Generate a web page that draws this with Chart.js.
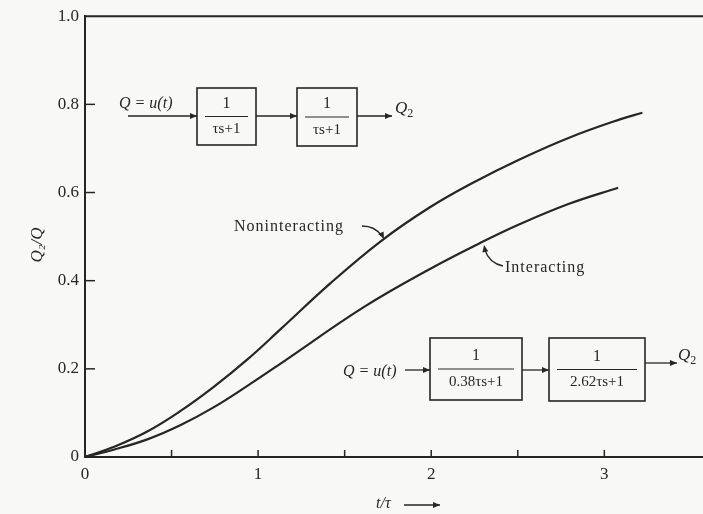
<!DOCTYPE html>
<html>
<head>
<meta charset="utf-8">
<script src="https://cdn.jsdelivr.net/npm/chart.js@4"></script>
<style>
html,body{margin:0;padding:0;background:#f8f8f6;}
#wrap{width:703px;height:514px;position:relative;}
canvas{display:block;}
</style>
</head>
<body>
<div id="wrap"><canvas id="c" width="703" height="514"></canvas></div>
<script>
// ---- data ----
const nonT = [0, 0.16, 0.36, 0.55, 0.74, 0.94, 1.13, 1.42, 1.71, 1.99, 2.23, 2.51, 2.80, 3.09, 3.22];
const nonY = [0, 0.022, 0.058, 0.104, 0.158, 0.222, 0.290, 0.395, 0.490, 0.566, 0.620, 0.675, 0.725, 0.766, 0.781];
const intT = [0, 0.16, 0.36, 0.55, 0.74, 0.94, 1.13, 1.61, 1.99, 2.28, 2.51, 2.80, 3.08];
const intY = [0, 0.016, 0.040, 0.072, 0.112, 0.162, 0.212, 0.340, 0.426, 0.485, 0.528, 0.575, 0.611];
const xTicks = [0, 0.5, 1, 1.5, 2, 2.5, 3];
const xLabels = {0: '0', 1: '1', 2: '2', 3: '3'};
const yTicks = [0, 0.2, 0.4, 0.6, 0.8, 1.0];
const yLabels = {0: '0', 0.2: '0.2', 0.4: '0.4', 0.6: '0.6', 0.8: '0.8', 1: '1.0'};
const seriesNames = ['Noninteracting', 'Interacting'];

const INK = '#262626';
const SERIF = '"Liberation Serif", "DejaVu Serif", serif';

function pts(t, y) { return t.map((v, i) => ({x: v, y: y[i]})); }

const deco = {
  id: 'deco',
  afterDraw(chart) {
    const ctx = chart.ctx;
    const xs = chart.scales.x, ys = chart.scales.y;
    const a = chart.chartArea;
    ctx.save();
    ctx.strokeStyle = INK; ctx.fillStyle = INK;
    // top frame line
    ctx.lineWidth = 2;
    ctx.beginPath(); ctx.moveTo(a.left, a.top); ctx.lineTo(a.right, a.top); ctx.stroke();
    // inward ticks
    ctx.lineWidth = 1.5;
    yTicks.forEach(v => {
      if (v === 0 || v === 1) return;
      const p = ys.getPixelForValue(v);
      ctx.beginPath(); ctx.moveTo(a.left, p); ctx.lineTo(a.left + 10, p); ctx.stroke();
    });
    xTicks.forEach(v => {
      if (v === 0) return;
      const p = xs.getPixelForValue(v);
      ctx.beginPath(); ctx.moveTo(p, a.bottom); ctx.lineTo(p, a.bottom - 7); ctx.stroke();
    });

    function arrowHead(x, y, dir) {
      ctx.beginPath();
      ctx.moveTo(x, y);
      ctx.lineTo(x - 7 * Math.cos(dir) + 3 * Math.sin(dir), y - 7 * Math.sin(dir) - 3 * Math.cos(dir));
      ctx.lineTo(x - 7 * Math.cos(dir) - 3 * Math.sin(dir), y - 7 * Math.sin(dir) + 3 * Math.cos(dir));
      ctx.closePath(); ctx.fill();
    }
    function hArrow(x1, x2, y) {
      ctx.lineWidth = 1.3;
      ctx.beginPath(); ctx.moveTo(x1, y); ctx.lineTo(x2, y); ctx.stroke();
      arrowHead(x2, y, 0);
    }
    function block(x1, y1, x2, y2, den) {
      ctx.lineWidth = 1.6;
      ctx.strokeRect(x1, y1, x2 - x1, y2 - y1);
      const cx = (x1 + x2) / 2, my = (y1 + y2) / 2;
      ctx.lineWidth = 1.2;
      ctx.beginPath(); ctx.moveTo(x1 + 8, my); ctx.lineTo(x2 - 8, my); ctx.stroke();
      ctx.font = '16px ' + SERIF;
      ctx.textAlign = 'center'; ctx.textBaseline = 'middle';
      ctx.fillText('1', cx, my - 13);
      ctx.font = '15px ' + SERIF;
      ctx.fillText(den, cx, my + 13);
    }
    function italic(txt, x, y, size, align) {
      ctx.font = 'italic ' + size + 'px ' + SERIF;
      ctx.textAlign = align || 'left'; ctx.textBaseline = 'middle';
      ctx.fillText(txt, x, y);
    }
    function q2(x, y) {
      italic('Q', x, y, 17, 'left');
      const w = ctx.measureText('Q').width;
      ctx.font = '12px ' + SERIF;
      ctx.fillText('2', x + w, y + 5);
    }

    // top block diagram (non-interacting)
    italic('Q = u(t)', 119, 104, 16);
    hArrow(128, 197, 116);
    block(197, 88, 256, 145, 'τs+1');
    hArrow(256, 297, 116);
    block(297, 88, 357, 146, 'τs+1');
    hArrow(357, 392, 116);
    q2(395, 109);

    // bottom block diagram (interacting)
    italic('Q = u(t)', 343, 372, 16);
    hArrow(405, 430, 370);
    block(430, 338, 522, 400, '0.38τs+1');
    hArrow(522, 549, 370);
    block(549, 338, 645, 401, '2.62τs+1');
    hArrow(645, 677, 363);
    q2(678, 356);

    // curve labels with arrows
    ctx.font = '16px ' + SERIF;
    if ('letterSpacing' in ctx) ctx.letterSpacing = '1px';
    ctx.textAlign = 'left'; ctx.textBaseline = 'middle';
    ctx.fillText(seriesNames[0], 234, 227);
    ctx.fillText(seriesNames[1], 505, 268);
    if ('letterSpacing' in ctx) ctx.letterSpacing = '0px';
    ctx.lineWidth = 1.3;
    ctx.beginPath(); ctx.moveTo(362, 226); ctx.quadraticCurveTo(375, 226, 382, 236); ctx.stroke();
    arrowHead(384, 239, Math.atan2(10, 5));
    ctx.beginPath(); ctx.moveTo(503, 266); ctx.quadraticCurveTo(489, 263, 485, 250); ctx.stroke();
    arrowHead(484, 245, Math.atan2(-10, -2));

    // axis titles
    italic('t/τ', 376, 504, 16);
    hArrow(404, 440, 505);
    ctx.save();
    ctx.translate(38, 245);
    ctx.rotate(-Math.PI / 2);
    ctx.font = 'italic 17px ' + SERIF;
    ctx.textAlign = 'center'; ctx.textBaseline = 'middle';
    ctx.fillText('Q₂/Q', 0, 0);
    ctx.restore();
    ctx.restore();
  }
};

new Chart(document.getElementById('c'), {
  type: 'line',
  data: {
    datasets: [
      {label: seriesNames[0], data: pts(nonT, nonY), borderColor: INK, borderWidth: 2.2, pointRadius: 0, tension: 0.4, fill: false},
      {label: seriesNames[1], data: pts(intT, intY), borderColor: INK, borderWidth: 2.2, pointRadius: 0, tension: 0.4, fill: false}
    ]
  },
  options: {
    responsive: false,
    animation: false,
    devicePixelRatio: 1,
    layout: {padding: {top: 15, right: 0, left: 0, bottom: 0}},
    plugins: {legend: {display: false}, tooltip: {enabled: false}},
    scales: {
      x: {
        type: 'linear', min: 0, max: 3.57,
        afterFit(s) { s.height = 57; },
        afterBuildTicks(s) { s.ticks = xTicks.map(v => ({value: v})); },
        grid: {display: false, drawTicks: false},
        border: {display: true, color: INK, width: 2},
        ticks: {
          autoSkip: false, maxRotation: 0, padding: 7, color: INK,
          font: {family: SERIF, size: 17},
          callback: v => (xLabels[v] !== undefined ? xLabels[v] : '')
        }
      },
      y: {
        type: 'linear', min: 0, max: 1.0,
        afterFit(s) { s.width = 85; },
        afterBuildTicks(s) { s.ticks = yTicks.map(v => ({value: v})); },
        grid: {display: false, drawTicks: false},
        border: {display: true, color: INK, width: 2},
        ticks: {
          padding: 6, color: INK,
          font: {family: SERIF, size: 17},
          callback: v => yLabels[Math.round(v * 10) / 10] || ''
        }
      }
    }
  },
  plugins: [deco]
});
</script>
</body>
</html>
